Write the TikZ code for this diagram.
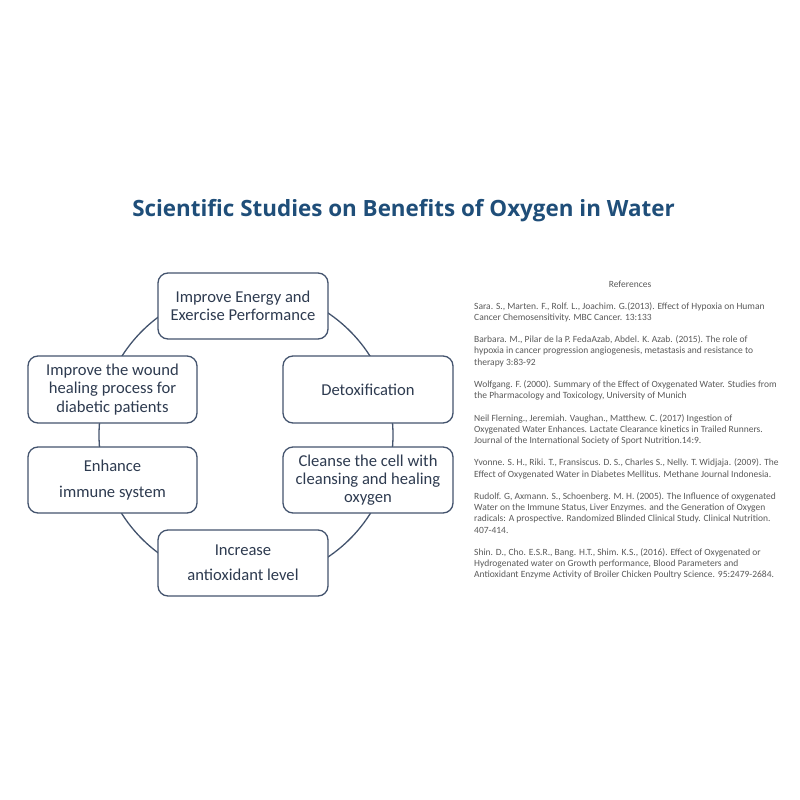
\documentclass[tikz,border=0pt]{standalone}
\usepackage{fontspec}
\setmainfont{Carlito}
\newfontfamily\titlefont{Open Sans}
\definecolor{titleblue}{HTML}{1F4E79}
\definecolor{boxline}{HTML}{44546E}
\definecolor{boxtext}{HTML}{2E3B50}
\definecolor{reftext}{HTML}{5A5A5A}
\tikzset{
  benefit/.style={draw=boxline, line width=1.3pt, rounded corners=10pt, fill=white,
    align=center, text=boxtext, font=\fontsize{16.6}{18.2}\selectfont, inner sep=0pt},
  ring/.style={draw=boxline, line width=1.3pt},
  refs/.style={align=left, text=reftext, font=\fontsize{9.5}{11.2}\selectfont, inner sep=0pt, anchor=north west}
}
\begin{document}
\begin{tikzpicture}[x=1pt,y=-1pt]
\useasboundingbox[fill=white] (0,0) rectangle (800,800);
\node[font=\titlefont\bfseries\fontsize{22.4}{26}\selectfont, text=titleblue] (title) at (403.5,211) {Scientific Studies on Benefits of Oxygen in Water};
\coordinate (ringcenter) at (246,435);
\draw[ring] (ringcenter) circle[radius=147];
\node[benefit, minimum width=170pt, minimum height=66pt] (energy) at (243,306) {Improve Energy and\\Exercise Performance};
\node[benefit, minimum width=169pt, minimum height=67pt] (wound) at (112.5,389.5) {Improve the wound\\healing process for\\diabetic patients};
\node[benefit, minimum width=170pt, minimum height=67pt] (detox) at (368,389.5) {Detoxification};
\node[benefit, minimum width=169pt, minimum height=66pt] (immune) at (112.5,480) {Enhance\\[8pt]immune system};
\node[benefit, minimum width=170pt, minimum height=66pt] (cleanse) at (368,480) {Cleanse the cell with\\cleansing and healing\\oxygen};
\node[benefit, minimum width=170pt, minimum height=66pt] (antiox) at (243,563) {Increase\\[7pt]antioxidant level};
\node[text=reftext, font=\fontsize{9.5}{11}\selectfont] (refhead) at (630,284) {References};
\node[refs] (reflist) at (474,302) {Sara. S., Marten. F., Rolf. L., Joachim. G.(2013). Effect of Hypoxia on Human\\
Cancer Chemosensitivity. MBC Cancer. 13:133\\[11.2pt]
Barbara. M., Pilar de la P. FedaAzab, Abdel. K. Azab. (2015). The role of\\
hypoxia in cancer progression angiogenesis, metastasis and resistance to\\
therapy 3:83-92\\[11.2pt]
Wolfgang. F. (2000). Summary of the Effect of Oxygenated Water. Studies from\\
the Pharmacology and Toxicology, University of Munich\\[11.2pt]
Neil Flerning., Jeremiah. Vaughan., Matthew. C. (2017) Ingestion of\\
Oxygenated Water Enhances. Lactate Clearance kinetics in Trailed Runners.\\
Journal of the International Society of Sport Nutrition.14:9.\\[11.2pt]
Yvonne. S. H., Riki. T., Fransiscus. D. S., Charles S., Nelly. T. Widjaja. (2009). The\\
Effect of Oxygenated Water in Diabetes Mellitus. Methane Journal Indonesia.\\[11.2pt]
Rudolf. G, Axmann. S., Schoenberg. M. H. (2005). The Influence of oxygenated\\
Water on the Immune Status, Liver Enzymes. and the Generation of Oxygen\\
radicals: A prospective. Randomized Blinded Clinical Study. Clinical Nutrition.\\
407-414.\\[11.2pt]
Shin. D., Cho. E.S.R., Bang. H.T., Shim. K.S., (2016). Effect of Oxygenated or\\
Hydrogenated water on Growth performance, Blood Parameters and\\
Antioxidant Enzyme Activity of Broiler Chicken Poultry Science. 95:2479-2684.};
\end{tikzpicture}
\end{document}
